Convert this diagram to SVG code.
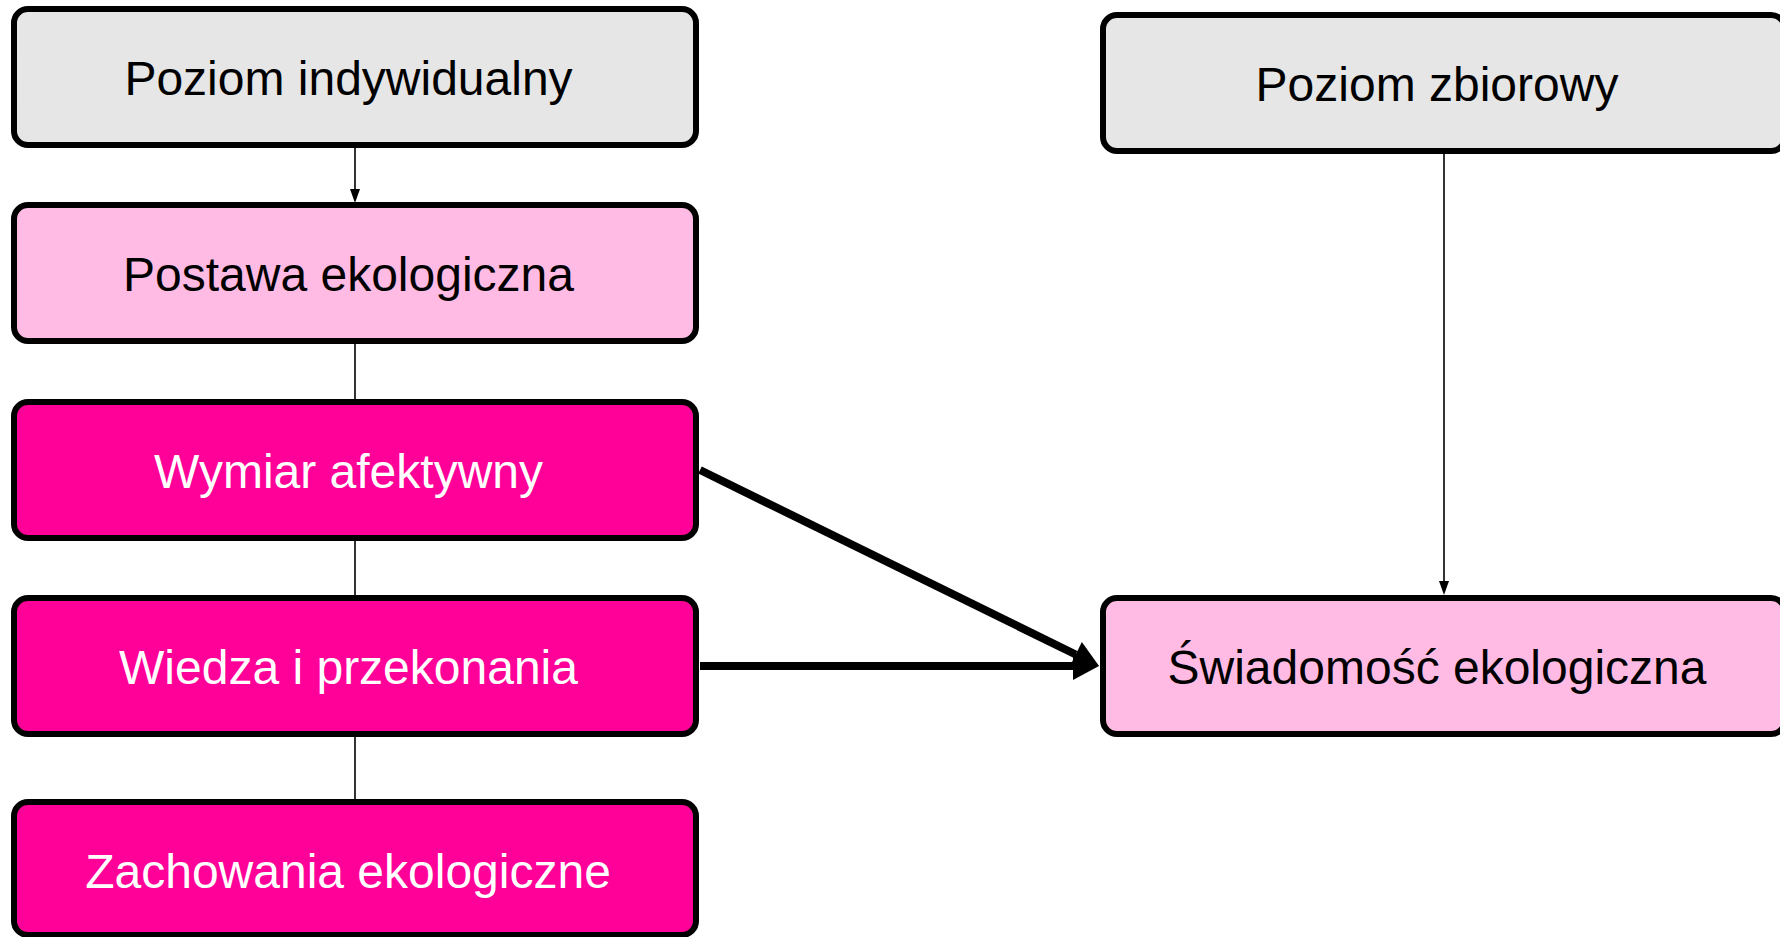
<svg xmlns="http://www.w3.org/2000/svg" width="1780" height="937" viewBox="0 0 1780 937">
<style>
.box{stroke:#000;stroke-width:6}
.grey{fill:#E6E6E6}
.light{fill:#FFBBE3}
.hot{fill:#FF0099}
.lbl{font-family:"Liberation Sans",Arial,sans-serif;font-size:48px;text-anchor:middle}
.dark{fill:#000}
.white{fill:#fff}
.thin{stroke:#000;stroke-width:1.6;fill:none}
.thick{stroke:#000;stroke-width:8;fill:none}
</style>
<defs>
<marker id="ah" markerUnits="userSpaceOnUse" viewBox="0 -5 14 10" refX="0" refY="0" markerWidth="14" markerHeight="10" orient="auto" overflow="visible">
<path d="M0,-5 L14,0 L0,5 Z" fill="#000"/>
</marker>
<marker id="ahb" markerUnits="userSpaceOnUse" viewBox="0 -14 26 28" refX="0" refY="0" markerWidth="26" markerHeight="28" orient="auto" overflow="visible">
<path d="M0,-14 L26,0 L0,14 Z" fill="#000"/>
</marker>
</defs>
<rect width="1780" height="937" fill="#fff"/>
<g id="connectors">
<line class="thin" x1="355" y1="148" x2="355" y2="189" marker-end="url(#ah)"/>
<line class="thin" x1="355" y1="343" x2="355" y2="400"/>
<line class="thin" x1="355" y1="540" x2="355" y2="596"/>
<line class="thin" x1="355" y1="736" x2="355" y2="800"/>
<line class="thin" x1="1444" y1="154" x2="1444" y2="581" marker-end="url(#ah)"/>
<line class="thick" x1="700" y1="470" x2="1075.7" y2="654.5" marker-end="url(#ahb)"/>
<line class="thick" x1="700" y1="666" x2="1073" y2="666" marker-end="url(#ahb)"/>
</g>
<g id="n-poziom-indywidualny">
<rect class="box grey" x="14" y="9" width="682" height="136" rx="14"/>
<text class="lbl dark" x="348.5" y="95">Poziom indywidualny</text>
</g>
<g id="n-postawa">
<rect class="box light" x="14" y="205" width="682" height="136" rx="14"/>
<text class="lbl dark" x="348.5" y="291">Postawa ekologiczna</text>
</g>
<g id="n-wymiar">
<rect class="box hot" x="14" y="402" width="682" height="136" rx="14"/>
<text class="lbl white" x="348.5" y="488">Wymiar afektywny</text>
</g>
<g id="n-wiedza">
<rect class="box hot" x="14" y="598" width="682" height="136" rx="14"/>
<text class="lbl white" x="348.5" y="684">Wiedza i przekonania</text>
</g>
<g id="n-zachowania">
<rect class="box hot" x="14" y="802" width="682" height="133" rx="14"/>
<text class="lbl white" x="348" y="888">Zachowania ekologiczne</text>
</g>
<g id="n-poziom-zbiorowy">
<rect class="box grey" x="1103" y="15" width="682" height="136" rx="14"/>
<text class="lbl dark" x="1437" y="101">Poziom zbiorowy</text>
</g>
<g id="n-swiadomosc">
<rect class="box light" x="1103" y="598" width="682" height="136" rx="14"/>
<text class="lbl dark" x="1437" y="684">Świadomość ekologiczna</text>
</g>
</svg>
